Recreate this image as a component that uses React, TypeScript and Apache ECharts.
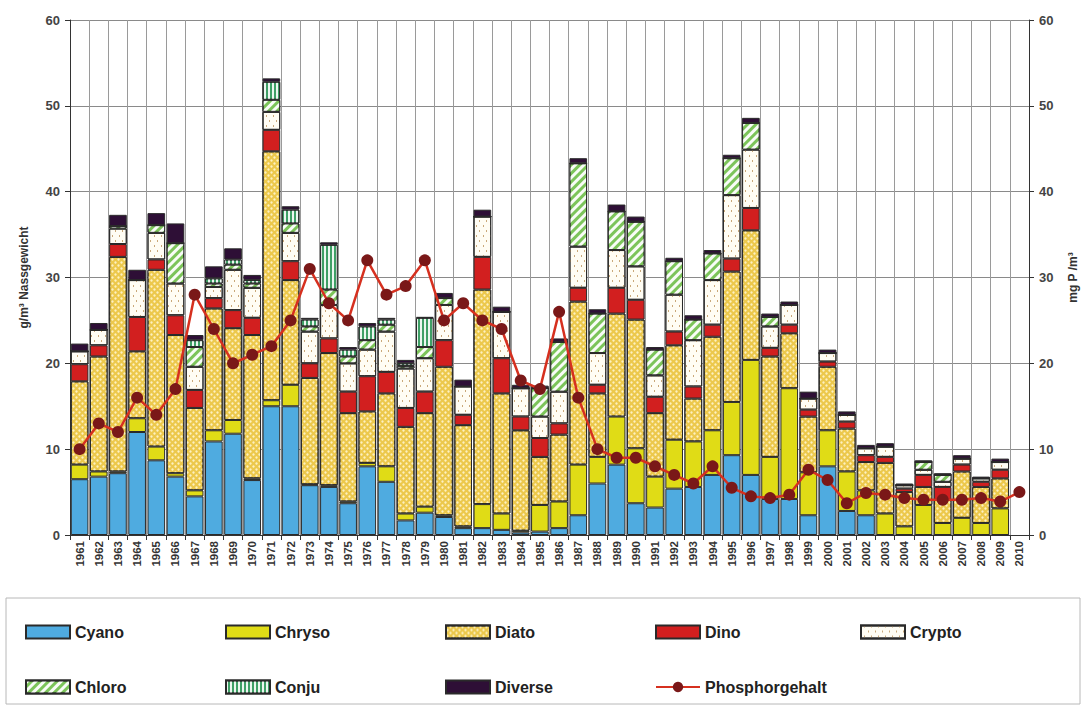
import React, { useEffect, useRef } from "react";
import * as echarts from "echarts";

const years = [
  "1961","1962","1963","1964","1965","1966","1967","1968","1969","1970",
  "1971","1972","1973","1974","1975","1976","1977","1978","1979","1980",
  "1981","1982","1983","1984","1985","1986","1987","1988","1989","1990",
  "1991","1992","1993","1994","1995","1996","1997","1998","1999","2000",
  "2001","2002","2003","2004","2005","2006","2007","2008","2009","2010",
];

const cyano = [6.5,6.8,7.2,12.0,8.7,6.8,4.5,10.9,11.8,6.4, 15.0,15.0,5.8,5.6,3.7,8.0,6.2,1.7,2.6,2.1, 0.8,0.8,0.6,0.3,0.4,0.8,2.3,6.0,8.2,3.7, 3.2,5.4,5.6,7.0,9.3,7.0,4.2,4.2,2.3,8.0, 2.8,2.3,0,0,0,0,0,0,0,null];
const chryso = [1.7,0.6,0.2,1.6,1.6,0.4,0.7,1.3,1.6,0.2, 0.7,2.5,0.1,0.2,0.2,0.4,1.8,0.8,0.7,0.2, 0.2,2.8,1.9,0.2,3.1,3.1,5.9,3.1,5.6,6.4, 3.6,5.7,5.3,5.2,6.2,13.4,4.9,12.9,5.0,4.2, 4.6,2.9,2.5,1.0,3.5,1.4,2.0,1.4,3.1,null];
const diato = [9.7,13.4,25.0,7.8,20.6,16.1,9.6,14.2,10.7,16.7, 29.0,12.2,12.4,15.4,10.3,6.0,8.5,10.1,10.9,17.3, 11.8,25.0,14.0,11.7,5.6,7.8,19.0,7.4,12.0,15.0, 7.4,11.0,5.0,10.9,15.2,15.1,11.7,6.4,6.5,7.4, 5.0,3.3,5.9,4.0,2.1,2.7,5.4,4.2,3.5,null];
const dino = [2.0,1.3,1.5,4.0,1.2,2.3,2.1,1.2,2.1,2.0, 2.5,2.2,1.7,1.7,2.5,4.1,2.5,2.2,2.5,3.1, 1.2,3.8,4.1,1.6,2.2,1.3,1.6,1.0,3.0,2.3, 1.9,1.6,1.4,1.4,1.5,2.6,1.0,1.0,0.8,0.6, 0.8,0.8,0.7,0.4,1.4,1.5,0.8,0.6,1.0,null];
const crypto = [1.5,1.8,1.8,4.3,3.1,3.7,2.7,1.3,4.7,3.5, 2.1,3.3,3.7,3.9,3.3,3.1,4.7,4.6,3.9,4.1, 3.3,4.7,5.4,3.3,2.5,3.7,4.8,3.7,4.4,3.9, 2.5,4.3,5.4,5.2,7.4,6.8,2.5,2.3,1.3,1.0, 0.8,0.8,1.2,0.4,0.6,0.6,0.7,0.4,0.9,null];
const chloro = [0,0,0.3,0,0.9,4.7,2.3,0.4,0.6,0.5, 1.4,1.1,0.6,1.8,0.8,1.1,0.8,0.3,1.3,0.8, 0,0,0,0,3.3,5.8,9.7,4.6,4.5,5.2, 3.0,3.9,2.4,3.1,4.3,3.1,1.1,0,0,0, 0,0,0,0,0.9,0.8,0,0,0,null];
const conju = [0,0,0,0,0,0,0.8,0.6,0.6,0.4, 2.1,1.6,0.8,5.2,0.8,1.6,0.6,0.3,3.4,0, 0,0,0,0,0,0,0,0,0,0, 0,0,0,0,0,0,0,0,0,0, 0,0,0,0,0,0,0,0,0,null];
const diverse = [0.9,0.8,1.3,1.2,1.4,2.3,0.6,1.4,1.3,0.6, 0.4,0.4,0.2,0.3,0.3,0.4,0.2,0.4,0.1,0.6, 0.8,0.8,0.6,0.4,0.3,0.4,0.6,0.5,0.8,0.6, 0.3,0.4,0.5,0.4,0.4,0.6,0.4,0.4,0.8,0.4, 0.4,0.4,0.4,0.2,0.2,0.2,0.4,0.2,0.4,null];
const phosphor = [10,13,12,16,14,17,28,24,20,21, 22,25,31,27,25,32,28,29,32,25, 27,25,24,18,17,26,16,10,9,9, 8,7,6,8,5.5,4.5,4.3,4.7,7.6,6.4, 3.7,4.9,4.7,4.3,4.1,4.1,4.1,4.3,3.9,5.0];

const FONT = "Liberation Sans";

export default function App() {
  const ref = useRef<HTMLDivElement>(null);

  useEffect(() => {
    document.body.style.margin = "0";
    const chart = echarts.init(ref.current!, null, { renderer: "svg" });

    const border = { borderColor: "#2a2a2a", borderWidth: 1 };
    const bar = (name: string, data: any[], color: string, decal?: any) => ({
      name,
      type: "bar",
      stack: "total",
      data,
      barCategoryGap: "8%",
      itemStyle: { color, ...border, ...(decal ? { decal } : {}) },
      emphasis: { disabled: true },
    });

    const legendText = { fontFamily: FONT, fontWeight: "bold", fontSize: 16, color: "#222" };
    const leg = (name: string, left: number, top: number, icon?: string) => ({
      data: [name],
      left,
      top,
      itemWidth: 44,
      itemHeight: 13,
      itemGap: 4,
      icon,
      textStyle: legendText,
      selectedMode: false,
    });

    chart.setOption({
      animation: false,
      aria: { enabled: false },
      grid: { left: 70, right: 60, top: 20, bottom: 172 },
      graphic: [
        {
          type: "rect",
          shape: { x: 6, y: 598, width: 1074, height: 106 },
          style: { fill: "#ffffff", stroke: "#b8b8b8", lineWidth: 1 },
          z: -1,
        },
      ],
      legend: [
        leg("Cyano", 20, 619, "rect"),
        leg("Chryso", 220, 619, "rect"),
        leg("Diato", 440, 619, "rect"),
        leg("Dino", 650, 619, "rect"),
        leg("Crypto", 855, 619, "rect"),
        leg("Chloro", 20, 674, "rect"),
        leg("Conju", 220, 674, "rect"),
        leg("Diverse", 440, 674, "rect"),
        leg("Phosphorgehalt", 650, 674),
      ],
      xAxis: {
        type: "category",
        data: years,
        boundaryGap: true,
        axisLine: { lineStyle: { color: "#333", width: 1 } },
        axisTick: { show: true, interval: 0, length: 5, lineStyle: { color: "#333" } },
        axisLabel: {
          interval: 0,
          rotate: 90,
          fontFamily: FONT,
          fontWeight: "bold",
          fontSize: 11.5,
          color: "#333",
          margin: 6,
        },
        splitLine: { show: true, interval: 0, lineStyle: { color: "#9a9a9a", width: 1 } },
      },
      yAxis: [
        {
          type: "value",
          min: 0,
          max: 60,
          interval: 10,
          name: "g/m³ Nassgewicht",
          nameLocation: "middle",
          nameGap: 40,
          nameRotate: 90,
          nameTextStyle: { fontFamily: FONT, fontWeight: "bold", fontSize: 12, color: "#333" },
          axisLine: { show: true, lineStyle: { color: "#333" } },
          axisTick: { show: true, length: 5, lineStyle: { color: "#333" } },
          axisLabel: { fontFamily: FONT, fontWeight: "bold", fontSize: 13, color: "#444", margin: 10 },
          splitLine: { show: true, lineStyle: { color: "#8a8a8a", width: 1 } },
        },
        {
          type: "value",
          min: 0,
          max: 60,
          interval: 10,
          position: "right",
          name: "mg P /m³",
          nameLocation: "middle",
          nameGap: 38,
          nameRotate: 90,
          nameTextStyle: { fontFamily: FONT, fontWeight: "bold", fontSize: 12, color: "#333" },
          axisLine: { show: true, lineStyle: { color: "#333" } },
          axisTick: { show: true, length: 5, lineStyle: { color: "#333" } },
          axisLabel: { fontFamily: FONT, fontWeight: "bold", fontSize: 13, color: "#444", margin: 10 },
          splitLine: { show: false },
        },
      ],
      series: [
        bar("Cyano", cyano, "#4fabe0"),
        bar("Chryso", chryso, "#e0dc16"),
        bar("Diato", diato, "#ecc84c", {
          symbol: "circle",
          symbolSize: 0.8,
          dashArrayX: [[3, 3], [0, 3, 3, 0]],
          dashArrayY: [3, 0],
          color: "rgba(255,246,205,0.9)",
        }),
        bar("Dino", dino, "#d21f1f"),
        bar("Crypto", crypto, "#fffdf4", {
          symbol: "rect",
          symbolSize: 1,
          dashArrayX: [[1, 6], [0, 3, 1, 3]],
          dashArrayY: [2, 3],
          color: "#c9a87a",
        }),
        bar("Chloro", chloro, "#7cc45a", {
          symbol: "rect",
          symbolSize: 1,
          dashArrayX: [1, 0],
          dashArrayY: [3, 3],
          rotation: -Math.PI / 4,
          color: "rgba(255,255,255,0.95)",
        }),
        bar("Conju", conju, "#3f9f66", {
          symbol: "rect",
          symbolSize: 1,
          dashArrayX: [2, 2],
          dashArrayY: [1, 0],
          color: "rgba(255,255,255,0.9)",
        }),
        bar("Diverse", diverse, "#2e0f36"),
        {
          name: "Phosphorgehalt",
          type: "line",
          yAxisIndex: 1,
          data: phosphor,
          symbol: "circle",
          symbolSize: 12,
          lineStyle: { color: "#d6301f", width: 2.5 },
          itemStyle: { color: "#7a1818" },
          z: 5,
          emphasis: { disabled: true },
        },
      ],
    });

    return () => chart.dispose();
  }, []);

  return (
    <div
      ref={ref}
      style={{ width: 1089, height: 707, position: "absolute", left: 0, top: 0, background: "#fff" }}
    />
  );
}
